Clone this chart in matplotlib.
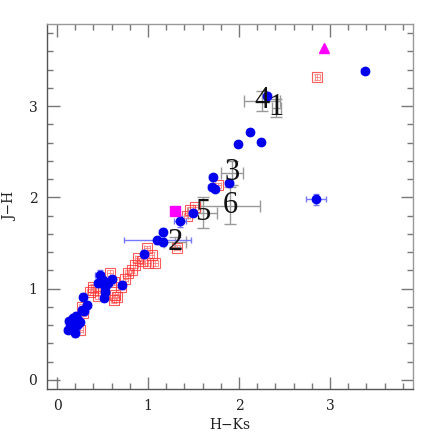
import matplotlib
matplotlib.use("Agg")
import matplotlib.pyplot as plt
from matplotlib.ticker import MultipleLocator

# ---- data ----
blue_hk = [3.38, 2.31, 2.12, 2.24, 1.99, 1.71, 1.70, 1.74, 1.89, 2.84, 1.35, 1.49,
           1.16, 1.10, 1.16, 0.96, 0.71, 0.47, 0.56, 0.53, 0.45, 0.51, 0.53, 0.29,
           0.33, 0.27, 0.23, 0.18, 0.20, 0.14, 0.16, 0.12, 0.25, 0.21, 0.15, 0.19,
           0.30, 0.13, 0.22, 0.17, 0.60, 0.50]
blue_jh = [3.38, 3.11, 2.72, 2.61, 2.58, 2.22, 2.11, 2.09, 2.16, 1.98, 1.74, 1.83,
           1.62, 1.53, 1.51, 1.38, 1.04, 1.15, 1.06, 1.02, 1.06, 0.90, 0.96, 0.91,
           0.82, 0.77, 0.66, 0.58, 0.51, 0.58, 0.66, 0.55, 0.63, 0.70, 0.62, 0.54,
           0.75, 0.64, 0.60, 0.68, 1.10, 1.09]
blue_xerr = [0.04, 0.04, 0.03, 0.03, 0.03, 0.04, 0.04, 0.03, 0.04, 0.11, 0.07, 0.04,
             0.04, 0.37, 0.04, 0.04, 0.04, 0.05, 0.04, 0.04, 0.04, 0.04, 0.04, 0.04,
             0.04, 0.04, 0.04, 0.04, 0.04, 0.04, 0.04, 0.04, 0.04, 0.04, 0.04, 0.04,
             0.04, 0.04, 0.04, 0.04, 0.04, 0.04]
blue_yerr = [0.03, 0.04, 0.03, 0.03, 0.03, 0.04, 0.04, 0.03, 0.04, 0.06, 0.06, 0.04,
             0.04, 0.04, 0.04, 0.04, 0.04, 0.05, 0.04, 0.04, 0.04, 0.04, 0.04, 0.04,
             0.04, 0.04, 0.04, 0.04, 0.04, 0.04, 0.04, 0.04, 0.04, 0.04, 0.04, 0.04,
             0.04, 0.04, 0.04, 0.04, 0.04, 0.04]

red_hk = [2.86, 1.77, 1.43, 1.52, 1.46, 1.32, 0.99, 1.04, 1.00, 1.08, 0.89, 0.86,
          0.78, 0.75, 0.82, 0.62, 0.58, 0.40, 0.36, 0.64, 0.66, 0.29, 0.25, 0.40,
          0.62, 0.27, 0.70, 0.93, 0.50, 0.45]
red_jh = [3.32, 2.13, 1.80, 1.89, 1.86, 1.45, 1.44, 1.37, 1.28, 1.28, 1.33, 1.26,
          1.17, 1.11, 1.20, 1.07, 1.17, 1.02, 0.96, 0.93, 0.91, 0.73, 0.55, 0.98,
          0.87, 0.80, 1.02, 1.30, 0.98, 0.92]
red_err = 0.03

mag_sq_hk = [1.30]
mag_sq_jh = [1.85]
mag_tri_hk = [2.93]
mag_tri_jh = [3.64]

lab_text = ["1", "4", "3", "6", "5", "2"]
lab_hk = [2.41, 2.25, 1.92, 1.90, 1.60, 1.30]
lab_jh = [2.98, 3.06, 2.27, 1.91, 1.83, 1.51]
lab_xerr = [0.05, 0.20, 0.12, 0.33, 0.16, 0.12]
lab_yerr = [0.10, 0.11, 0.13, 0.20, 0.17, 0.05]

# ---- figure ----
fig = plt.figure(figsize=(4.36, 4.36), dpi=100)
ax = fig.add_axes([0.108, 0.108, 0.839, 0.837])

ax.errorbar(lab_hk, lab_jh, xerr=lab_xerr, yerr=lab_yerr, fmt="none",
            ecolor="#999999", elinewidth=1.0, capsize=4, capthick=1.0, zorder=1)

ax.errorbar(red_hk, red_jh, xerr=red_err, yerr=red_err, fmt="s",
            mfc="none", mec="#ff3333", mew=0.8, ms=6.5,
            ecolor="#ff7777", elinewidth=0.7, capsize=2, zorder=2, alpha=0.8)

ax.errorbar(blue_hk, blue_jh, xerr=blue_xerr, yerr=blue_yerr, fmt="o",
            mfc="#0000ee", mec="#0000ee", ms=6,
            ecolor="#7777ff", elinewidth=1.0, capsize=2.5, zorder=3)

ax.plot(mag_sq_hk, mag_sq_jh, "s", color="#ff00ff", ms=6.5, zorder=4)
ax.plot(mag_tri_hk, mag_tri_jh, "^", color="#ff00ff", ms=7.5, zorder=4)

for t, x, y in zip(lab_text, lab_hk, lab_jh):
    ax.text(x, y, t, fontsize=22, family="Liberation Serif", ha="center",
            va="center", color="#111111", zorder=5)

ax.set_xlim(-0.11, 3.91)
ax.set_ylim(-0.1, 3.9)
ax.xaxis.set_major_locator(MultipleLocator(1))
ax.xaxis.set_minor_locator(MultipleLocator(0.2))
ax.yaxis.set_major_locator(MultipleLocator(1))
ax.yaxis.set_minor_locator(MultipleLocator(0.2))
ax.tick_params(which="both", direction="in", top=True, right=True,
               color="#777777", labelsize=10, labelcolor="#222222")
ax.tick_params(which="major", length=9, width=1)
ax.tick_params(which="minor", length=4.5, width=1)
for lbl in ax.get_xticklabels() + ax.get_yticklabels():
    lbl.set_family("DejaVu Serif")
ax.tick_params(axis="x", pad=7)
ax.tick_params(axis="y", pad=7)
for s in ax.spines.values():
    s.set_color("#555555")
    s.set_linewidth(1.0)
ax.spines["top"].set_color("#999999")
ax.spines["right"].set_color("#999999")

ax.set_xlabel("H\u2212Ks", family="DejaVu Serif", fontsize=10, color="#222222", labelpad=4)
ax.set_ylabel("J\u2212H", family="DejaVu Serif", fontsize=10, color="#222222", labelpad=8)

fig.savefig("out.png", dpi=100)
